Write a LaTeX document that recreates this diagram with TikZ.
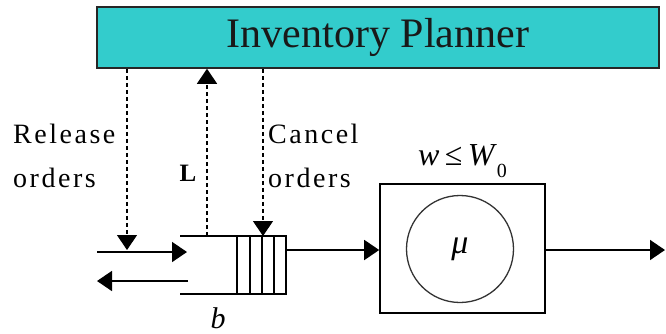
\documentclass[tikz,border=0pt]{standalone}
\usepackage{fontspec}
\setmainfont{Liberation Serif}
\usetikzlibrary{arrows.meta}
\definecolor{planfill}{RGB}{51,204,204}
\begin{document}
\begin{tikzpicture}[x=1pt,y=-1pt,
  tip/.style={-{Triangle[length=15pt,width=20pt]}},
  flow/.style={line width=1.6pt, tip},
  ctrl/.style={line width=1.2pt, dash pattern=on 4pt off 3pt, tip},
  lbl/.style={inner sep=0pt, anchor=base west, font=\fontsize{28}{28}\selectfont\addfontfeatures{LetterSpace=9}},
  qline/.style={line width=1.3pt},
]
\useasboundingbox (0,0) rectangle (666,333);

% planner
\node[draw=black!85, line width=1.5pt, fill=planfill, minimum width=562pt, minimum height=61pt,
      inner sep=0pt, font=\fontsize{42}{42}\selectfont, text=black!90] (plan) at (378,37.5) {Inventory Planner};

% queue
\coordinate (qtl) at (180,236);
\coordinate (qtr) at (286,236);
\coordinate (qbr) at (286,294);
\coordinate (qbl) at (180,294);
\draw[qline] (qtl) -- (qtr) -- (qbr) -- (qbl);
\foreach \x in {237,250,262,274} \draw[qline] (\x,236) -- (\x,294);

% server
\node[draw, line width=1.6pt, minimum width=165pt, minimum height=129pt, inner sep=0pt] (server) at (462.5,248.5) {};
\node[draw, circle, line width=1.3pt, draw=black!80, minimum size=107pt, inner sep=0pt,
      font=\fontsize{34}{34}\selectfont\itshape] (mu) at (460,249) {\raisebox{-5pt}{μ}};

% coordinates
\coordinate (relTip) at (127,250);
\coordinate (Lbot) at (207,236);
\coordinate (canTip) at (263,236);
\coordinate (inS) at (97,252);
\coordinate (inE) at (187,252);
\coordinate (outS) at (188,281);
\coordinate (outE) at (97,281);
\coordinate (qout) at (286,250);
\coordinate (rEnd) at (665,250);

% control lines
\draw[ctrl] (plan.south -| relTip) -- (relTip);
\draw[ctrl] (Lbot) -- (plan.south -| Lbot);
\draw[ctrl] (plan.south -| canTip) -- (canTip);

% flows
\draw[flow] (inS) -- (inE);
\draw[flow] (outS) -- (outE);
\draw[flow] (qout) -- (server.west |- qout);
\draw[flow] (server.east |- rEnd) -- (rEnd);

% labels
\node[lbl] (rel1) at (13,143) {Release};
\node[lbl] (rel2) at (13,187) {orders};
\node[lbl] (can1) at (268,143) {Cancel};
\node[lbl] (can2) at (268,187) {orders};
\node[inner sep=0pt, anchor=base, font=\fontsize{25}{25}\selectfont\bfseries] (L) at (188,181) {L};
\node[inner sep=0pt, anchor=base west, font=\fontsize{32}{32}\selectfont] (wle) at (418,165)
  {\textit{w}\,≤\,\textit{W}\raisebox{-12pt}{\fontsize{20}{20}\selectfont 0}};
\node[inner sep=0pt, anchor=base, font=\fontsize{30}{30}\selectfont\itshape] (b) at (218,328) {b};
\end{tikzpicture}
\end{document}
